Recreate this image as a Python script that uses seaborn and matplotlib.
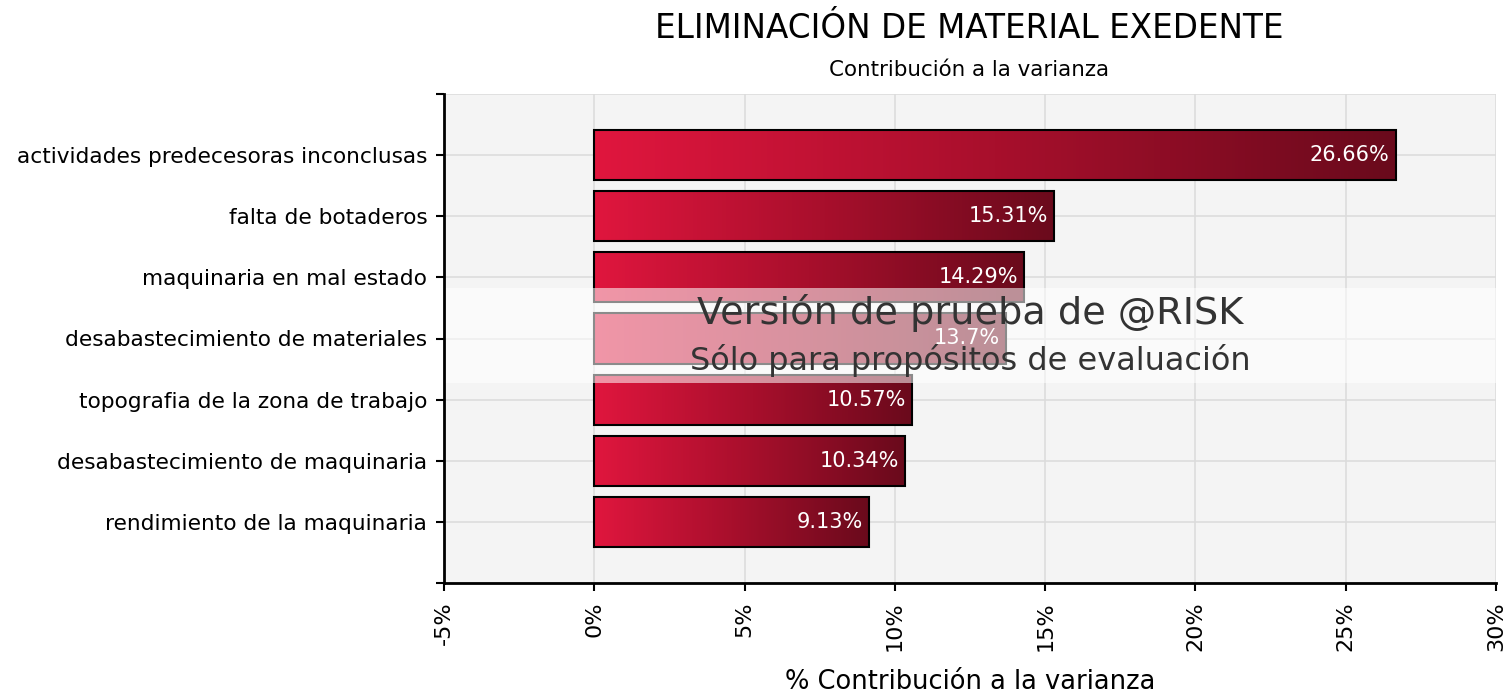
import numpy as np
import matplotlib
matplotlib.use("Agg")
import matplotlib.pyplot as plt
from matplotlib.colors import LinearSegmentedColormap
from matplotlib.patches import Rectangle
from matplotlib.ticker import FuncFormatter
import pandas as pd
import seaborn as sns

# data
factors = [
    "actividades predecesoras inconclusas",
    "falta de botaderos",
    "maquinaria en mal estado",
    "desabastecimiento de materiales",
    "topografia de la zona de trabajo",
    "desabastecimiento de maquinaria",
    "rendimiento de la maquinaria",
]
contrib = [26.66, 15.31, 14.29, 13.7, 10.57, 10.34, 9.13]

df = pd.DataFrame({"factor": factors, "contrib": contrib})

sns.set_style("white")
plt.rcParams["font.family"] = ["DejaVu Sans"]
plt.rcParams["text.color"] = "black"
plt.rcParams["xtick.color"] = "black"
plt.rcParams["ytick.color"] = "black"
plt.rcParams["axes.labelcolor"] = "black"

fig = plt.figure(figsize=(15.12, 6.94), dpi=100)
ax = fig.add_axes([444 / 1512, 1 - 583 / 694, (1496 - 444) / 1512, (583 - 94) / 694])
ax.set_facecolor("#f4f4f4")

sns.barplot(data=df, x="contrib", y="factor", orient="h", ax=ax,
            color="#dc143c", width=0.82, edgecolor="black", linewidth=1.5)

# gradient fill for each bar
cmap = LinearSegmentedColormap.from_list("grad", ["#e0163e", "#a80f2c", "#6a0a1c"])
grad = np.linspace(0, 1, 256).reshape(1, -1)
for patch in ax.patches:
    x0, y0 = patch.get_x(), patch.get_y()
    w, h = patch.get_width(), patch.get_height()
    im = ax.imshow(grad, cmap=cmap, aspect="auto", extent=(x0, x0 + w, y0 + h, y0),
                   zorder=patch.get_zorder(), interpolation="bilinear")
    im.set_clip_path(patch)
    patch.set_facecolor("none")
    patch.set_zorder(patch.get_zorder() + 0.5)

ax.set_xlim(-5, 30)
ax.set_ylim(len(factors), -1)
ax.set_yticks(range(-1, len(factors) + 1))
ax.set_yticklabels([""] + factors + [""], fontsize=15.6)
ax.set_xticks(range(-5, 31, 5))
ax.xaxis.set_major_formatter(FuncFormatter(lambda v, p: f"{v:.0f}%"))
ax.tick_params(axis="x", labelrotation=90, labelsize=16, length=6, width=1.5,
               direction="out", pad=7)
ax.tick_params(axis="y", length=6, width=1.5, direction="out", pad=6)
ax.tick_params(bottom=True, left=True)
ax.grid(True, color="#dcdcdc", linewidth=1.2)
ax.set_axisbelow(True)

for s in ["top", "right"]:
    ax.spines[s].set_visible(False)
for s in ["left", "bottom"]:
    ax.spines[s].set_color("black")
    ax.spines[s].set_linewidth(2)
    ax.spines[s].set_zorder(10)

ax.set_ylabel("")
ax.set_xlabel("% Contribución a la varianza", fontsize=18.5, labelpad=13)

# value labels inside bars
for i, v in enumerate(contrib):
    ax.text(v - 0.2, i, f"{v:g}%", ha="right", va="center", color="white",
            fontsize=15, zorder=5)

fig.text(969 / 1512, 1 - 28 / 694, "ELIMINACIÓN DE MATERIAL EXEDENTE",
         ha="center", va="center", fontsize=23.5)
fig.text(969 / 1512, 1 - 70 / 694, "Contribución a la varianza",
         ha="center", va="center", fontsize=15.4)

# trial watermark
ax.add_patch(Rectangle((0, 0.409), 1, 0.194, transform=ax.transAxes,
                       facecolor="white", alpha=0.55, edgecolor="none", zorder=8))
ax.text(0.5, 0.552, "Versión de prueba de @RISK", transform=ax.transAxes,
        ha="center", va="center", fontsize=27.5, color="#333333", zorder=9)
ax.text(0.5, 0.456, "Sólo para propósitos de evaluación", transform=ax.transAxes,
        ha="center", va="center", fontsize=23, color="#333333", zorder=9)

fig.savefig("out.png", dpi=100)
